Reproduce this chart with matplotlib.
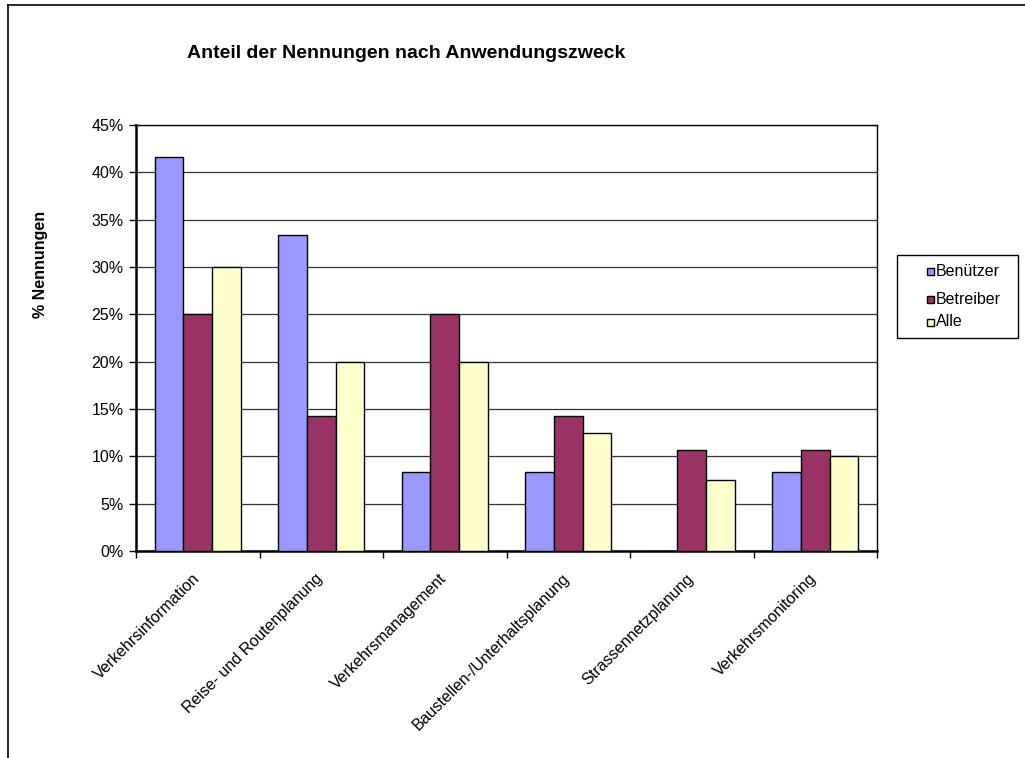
import matplotlib
matplotlib.use("Agg")
import matplotlib.pyplot as plt
import numpy as np
from matplotlib.lines import Line2D
from matplotlib.patches import Rectangle

plt.rcParams['font.family'] = ['Liberation Sans', 'DejaVu Sans']

categories = ["Verkehrsinformation", "Reise- und Routenplanung", "Verkehrsmanagement",
              "Baustellen-/Unterhaltsplanung", "Strassennetzplanung", "Verkehrsmonitoring"]
series_names = ["Benützer", "Betreiber", "Alle"]
benuetzer = [41.67, 33.33, 8.33, 8.33, 0.0, 8.33]
betreiber = [25.0, 14.29, 25.0, 14.29, 10.71, 10.71]
alle = [30.0, 20.0, 20.0, 12.5, 7.5, 10.0]
y_ticks = [0, 5, 10, 15, 20, 25, 30, 35, 40, 45]
colors = ["#9999FF", "#993366", "#FFFFCC"]

W, H = 1025, 758
fig = plt.figure(figsize=(W / 100, H / 100), dpi=100)


def fx(px):
    return px / W


def fy(py):
    return 1 - py / H


ax = fig.add_axes([fx(136), fy(551), (877 - 136) / W, (551 - 125) / H])

x = np.arange(len(categories))
bw = 0.231
for i, (vals, c) in enumerate(zip([benuetzer, betreiber, alle], colors)):
    ax.bar(x + (i - 1) * bw, vals, width=bw, color=c, edgecolor="black", linewidth=1.0, zorder=3)

ax.set_xlim(-0.5, len(categories) - 0.5)
ax.set_ylim(0, 45)
ax.set_yticks(y_ticks)
ax.set_yticklabels([f"{v}%" for v in y_ticks], fontsize=11.5)
ax.yaxis.grid(True, color="#333333", linewidth=0.9, zorder=0)
ax.set_axisbelow(True)

# category ticks sit on the boundaries between groups
ax.set_xticks(np.arange(len(categories) + 1) - 0.5)
ax.set_xticklabels([])
ax.tick_params(axis="x", direction="out", length=5, width=1)
ax.tick_params(axis="y", direction="out", length=5, width=1, pad=4)
for i, lab in enumerate(categories):
    ax.annotate(lab, xy=(i, 0), xycoords=("data", "axes fraction"),
                xytext=(-6, -20), textcoords="offset pixels",
                rotation=45, ha="right", va="top", rotation_mode="anchor", fontsize=11.5)

for s in ax.spines.values():
    s.set_linewidth(1.0)
ax.spines["bottom"].set_linewidth(1.8)
ax.spines["left"].set_linewidth(1.8)

fig.text(fx(406), fy(54), "Anteil der Nennungen nach Anwendungszweck",
         ha="center", va="center", fontsize=14, fontweight="bold")
fig.text(fx(41), fy(264), "% Nennungen", rotation=90,
         ha="center", va="center", fontsize=11.5, fontweight="bold")

# legend box with square swatches
fig.add_artist(Rectangle((fx(897), fy(338)), (1018 - 897) / W, (338 - 255) / H,
                         transform=fig.transFigure, facecolor="white",
                         edgecolor="black", linewidth=1.0))
for name, c, yc in zip(series_names, colors, [272, 299, 322]):
    fig.add_artist(Rectangle((fx(927), fy(yc + 3.5)), 7 / W, 7 / H,
                             transform=fig.transFigure, facecolor=c,
                             edgecolor="black", linewidth=1.0))
    fig.text(fx(936), fy(yc), name, ha="left", va="center", fontsize=11.5)

# outer chart frame
fig.add_artist(Line2D([fx(8), fx(8)], [0, fy(5)], color="black", linewidth=1.2,
                      transform=fig.transFigure))
fig.add_artist(Line2D([fx(8), 1.0], [fy(5), fy(5)], color="black", linewidth=1.2,
                      transform=fig.transFigure))

fig.savefig("out.png", dpi=100, facecolor="white")
